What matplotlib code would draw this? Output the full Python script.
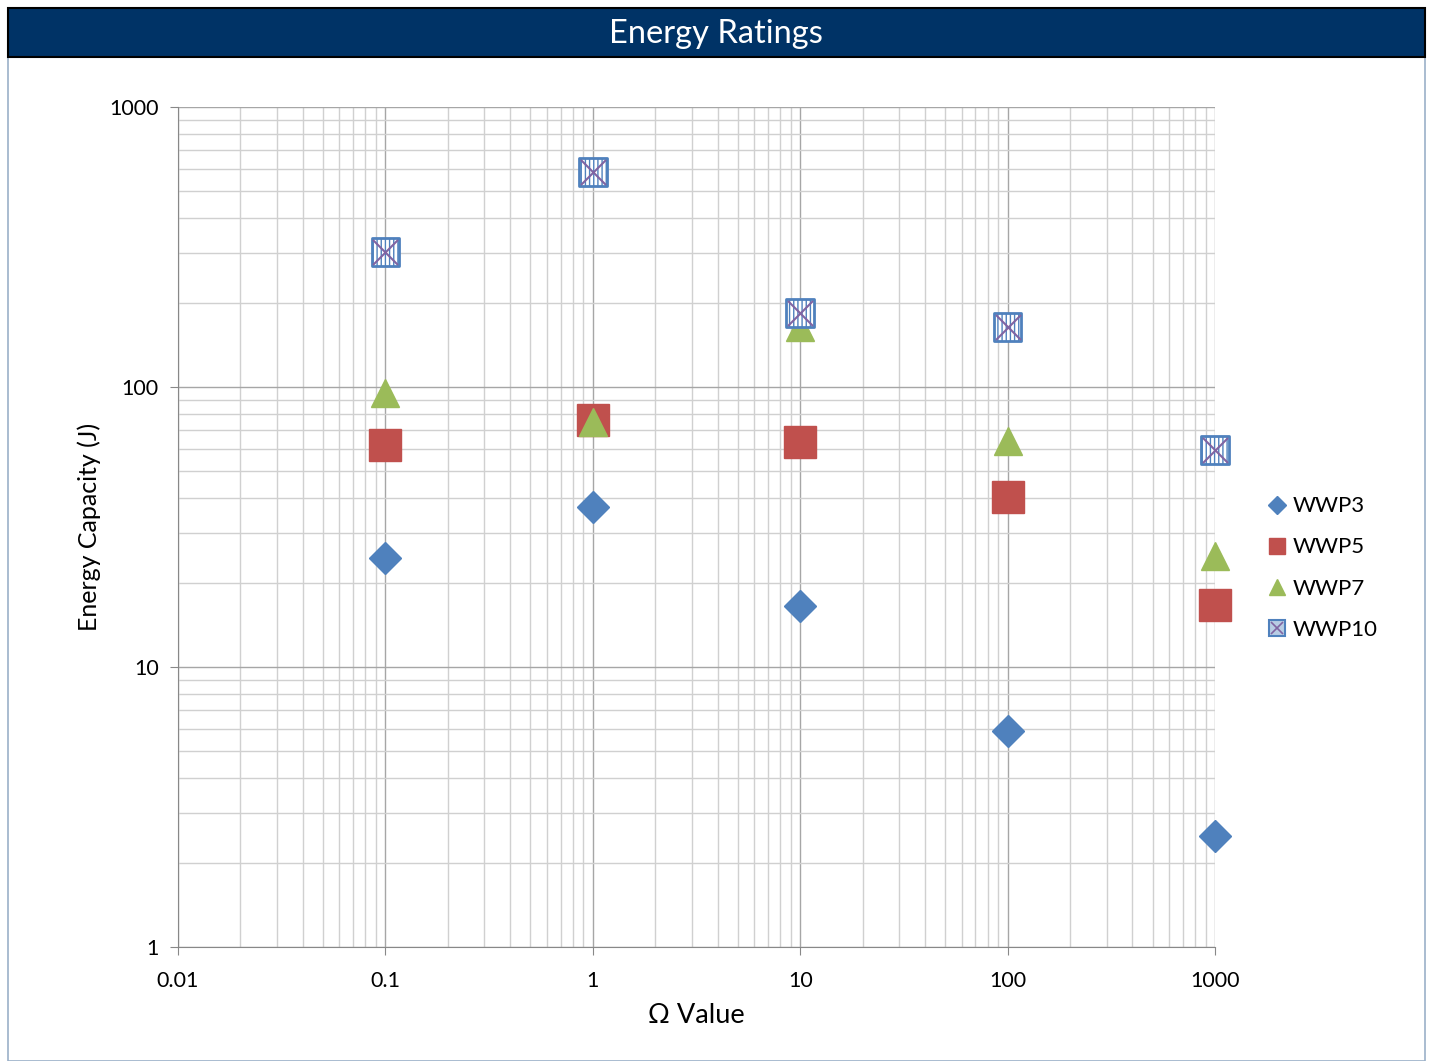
import matplotlib
matplotlib.use("Agg")
import matplotlib.pyplot as plt
from matplotlib.patches import Rectangle
from matplotlib.lines import Line2D
import numpy as np

plt.rcParams['font.family'] = ['Lato', 'DejaVu Sans']

ohms = [0.1, 1, 10, 100, 1000]
wwp3 = [24.5, 37.3, 16.5, 5.9, 2.5]
wwp5 = [62, 76, 63.5, 40.5, 16.6]
wwp7 = [95, 75, 164, 64, 25]
wwp10 = [303, 586, 184, 164, 59.6]

fig = plt.figure(figsize=(14.31, 10.61), dpi=100)

# outer frame
fig.add_artist(Rectangle((8/1431, 0), (1425-8)/1431, 1-8/1061, transform=fig.transFigure,
                         facecolor='white', edgecolor='#9BB0C8', lw=1.2, zorder=0))
# title bar
fig.add_artist(Rectangle((8/1431, 1-57/1061), (1425-8)/1431, 49/1061, transform=fig.transFigure,
                         facecolor='#003366', edgecolor='black', lw=1.5, zorder=1))
fig.text(0.5, 1-34/1061, 'Energy Ratings', color='white', ha='center', va='center', fontsize=23.5)

ax = fig.add_axes([178/1431, 1-947/1061, (1215-178)/1431, (947-107)/1061])
ax.set_xscale('log')
ax.set_yscale('log')
ax.set_xlim(0.01, 1000)
ax.set_ylim(1, 1000)

ax.grid(True, which='major', color='#A6A6A6', lw=1.0)
ax.grid(True, which='minor', color='#D0D0D0', lw=1.0)
ax.set_axisbelow(True)
for s in ['top', 'right']:
    ax.spines[s].set_visible(False)
for s in ['left', 'bottom']:
    ax.spines[s].set_color('#888888')
ax.tick_params(which='minor', length=0)
ax.tick_params(which='major', length=6, color='#888888', labelsize=15.5)
ax.tick_params(axis='x', pad=11)
ax.tick_params(axis='y', pad=8)
ax.set_xticks([0.01, 0.1, 1, 10, 100, 1000])
ax.set_xticklabels(['0.01', '0.1', '1', '10', '100', '1000'])
ax.set_yticks([1, 10, 100, 1000])
ax.set_yticklabels(['1', '10', '100', '1000'])
ax.set_xlabel('Ω Value', fontsize=19.5, labelpad=9)
ax.set_ylabel('Energy Capacity (J)', fontsize=18, labelpad=6)

blue = '#4F81BD'
red = '#C0504D'
green = '#9BBB59'
purple = '#8064A2'

ax.plot(ohms, wwp3, ls='none', marker='D', ms=16, color=blue, mec=blue, zorder=3, clip_on=False)
ax.plot(ohms, wwp5, ls='none', marker='s', ms=23, color=red, mec=red, zorder=3, clip_on=False)
ax.plot(ohms, wwp7, ls='none', marker='^', ms=20, color=green, mec=green, zorder=4, clip_on=False)
ax.scatter(ohms, wwp10, marker='s', s=20**2, facecolor='white', edgecolor=blue, hatch='||||',
           linewidths=2, zorder=5, clip_on=False)
ax.plot(ohms, wwp10, ls='none', marker='x', ms=18, mew=1.5, color=purple, zorder=6, clip_on=False)

handles = [
    Line2D([], [], ls='none', marker='D', ms=9, color=blue),
    Line2D([], [], ls='none', marker='s', ms=11, color=red),
    Line2D([], [], ls='none', marker='^', ms=12, color=green),
    (Line2D([], [], ls='none', marker='s', ms=11, mfc='#B8CCE4', mec=blue, mew=1.5),
     Line2D([], [], ls='none', marker='x', ms=8, mew=1.2, color=purple)),
]
fig.legend(handles, ['WWP3', 'WWP5', 'WWP7', 'WWP10'], loc='center left',
           bbox_to_anchor=(1248/1431, 1-568/1061), frameon=False, fontsize=16,
           handlelength=0.8, handletextpad=0.3, labelspacing=0.95)

fig.savefig('out.png', dpi=100)
